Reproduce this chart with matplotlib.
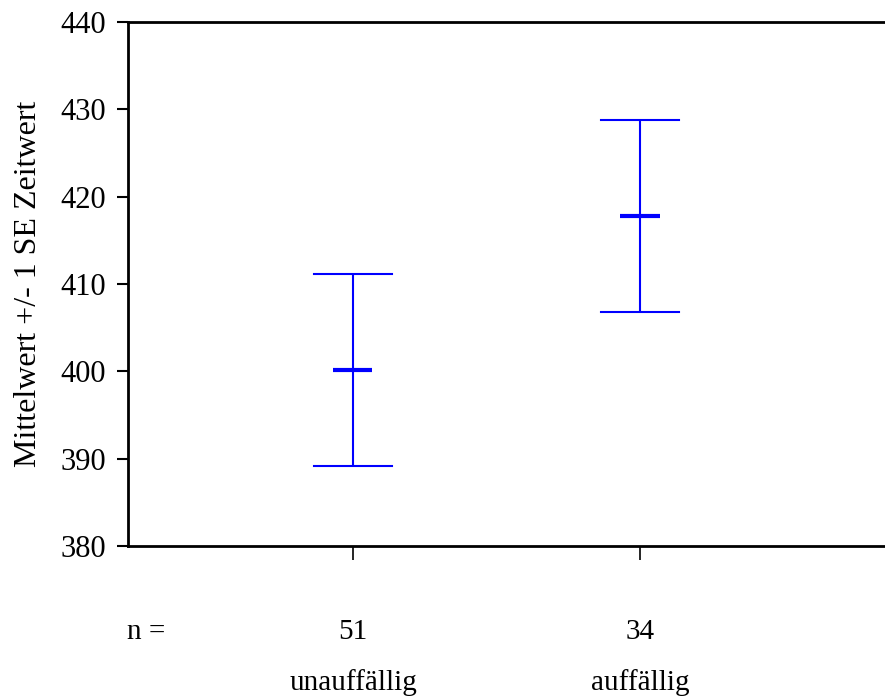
import matplotlib
matplotlib.use('Agg')
import matplotlib.pyplot as plt
import matplotlib.transforms as mtransforms

# Daten
groups = ['unauffällig', 'auffällig']
counts = [51, 34]
means = [400.2, 417.8]
se_low = [389.2, 406.8]
se_high = [411.2, 428.8]
positions = [1, 2]

plt.rcParams['font.family'] = ['Liberation Serif', 'DejaVu Serif']
plt.rcParams['font.size'] = 21

fig = plt.figure(figsize=(8.85, 6.97), dpi=100)
ax = fig.add_axes([0.1446, 0.2166, 0.8542, 0.7518])

cap = 0.137
mhalf = 0.068
for x, m, lo, hi in zip(positions, means, se_low, se_high):
    ax.plot([x, x], [lo, hi], color='#0000ff', lw=1.5, solid_capstyle='butt')
    ax.plot([x - cap, x + cap], [lo, lo], color='#0000ff', lw=1.5)
    ax.plot([x - cap, x + cap], [hi, hi], color='#0000ff', lw=1.5)
    ax.plot([x - mhalf, x + mhalf], [m, m], color='#0000ff', lw=3, solid_capstyle='butt')

ax.set_xlim(0.216, 2.85)
ax.set_ylim(380, 440)
ax.set_yticks(range(380, 441, 10))
ax.set_xticks(positions)
ax.set_xticklabels([])
ax.tick_params(axis='y', direction='out', length=8, width=1.5, pad=8, labelsize=22)
ax.tick_params(axis='x', direction='out', length=10, width=1.2)

ax.spines['right'].set_visible(False)
for s in ['left', 'bottom', 'top']:
    ax.spines[s].set_linewidth(2)

ax.set_ylabel('Mittelwert +/- 1 SE Zeitwert', fontsize=23)
ax.yaxis.set_label_coords(-(128 - 43) / 756, 0.5)

trans = mtransforms.blended_transform_factory(ax.transData, fig.transFigure)
ax.text(0.28, 1 - 632 / 697, 'n =', transform=trans, ha='center', va='center')
for x, n, g in zip(positions, counts, groups):
    ax.text(x, 1 - 632 / 697, str(n), transform=trans, ha='center', va='center')
    ax.text(x, 1 - 683 / 697, g, transform=trans, ha='center', va='center')

plt.savefig('out.png', dpi=100)
plt.close()
